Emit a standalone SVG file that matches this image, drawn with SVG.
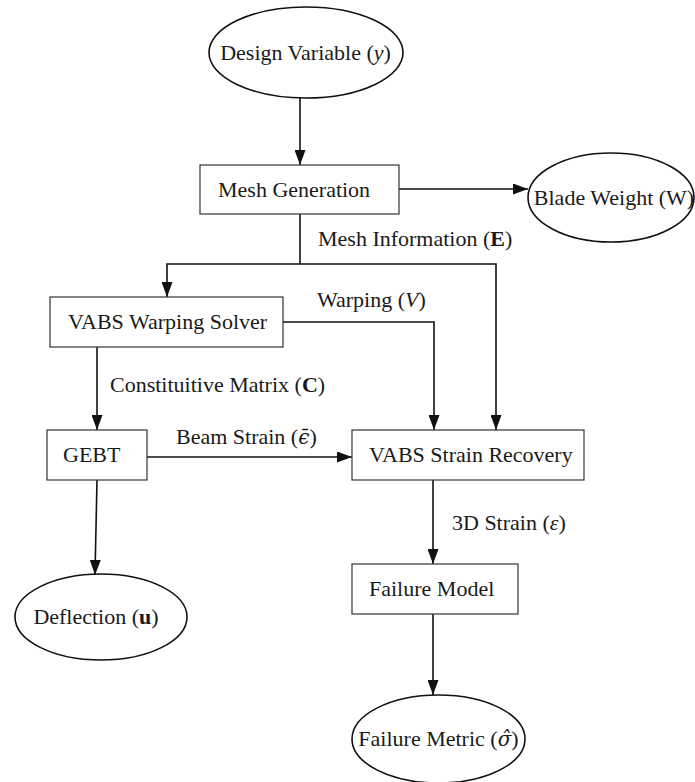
<svg xmlns="http://www.w3.org/2000/svg" width="695" height="782" viewBox="0 0 695 782">
  <style>
    text { font-family: "Liberation Serif", "DejaVu Serif", serif; font-size: 22px; fill: #1a1a1a; }
    .mid { text-anchor: middle; }
    .box { fill: #ffffff; stroke: #333333; stroke-width: 1.2; }
    .oval { fill: #ffffff; stroke: #111111; stroke-width: 1.6; }
    .edge { fill: none; stroke: #111111; stroke-width: 1.6; }
    .it { font-style: italic; }
    .bf { font-weight: bold; }
    .acc { font-family: "DejaVu Serif", serif; font-style: italic; font-size: 20px; }
  </style>
  <defs>
    <marker id="arrow" markerUnits="userSpaceOnUse" markerWidth="15" markerHeight="11" refX="15" refY="5.5" orient="auto">
      <path d="M0,0 L15,5.5 L0,11 z" fill="#111111"/>
    </marker>
  </defs>
  <rect width="695" height="782" fill="#ffffff"/>

  <!-- connectors and their labels -->
  <g id="connectors">
    <path class="edge" d="M300,98 V165" marker-end="url(#arrow)"/>
    <path class="edge" d="M399,189 H528" marker-end="url(#arrow)"/>
    <path class="edge" d="M300,214 V264"/>
    <path class="edge" d="M300,264 H167 V297" marker-end="url(#arrow)"/>
    <path class="edge" d="M300,264 H496 V430" marker-end="url(#arrow)"/>
    <path class="edge" d="M283,322 H434 V430" marker-end="url(#arrow)"/>
    <path class="edge" d="M97,347 V430" marker-end="url(#arrow)"/>
    <path class="edge" d="M147,457 H352" marker-end="url(#arrow)"/>
    <path class="edge" d="M97,480 L95,575" marker-end="url(#arrow)"/>
    <path class="edge" d="M433,480 V564" marker-end="url(#arrow)"/>
    <path class="edge" d="M433,614 V695" marker-end="url(#arrow)"/>

    <text x="318" y="246">Mesh Information (<tspan class="bf">E</tspan>)</text>
    <text x="317" y="307">Warping (<tspan class="it">V</tspan>)</text>
    <text x="110" y="392">Constituitive Matrix (<tspan class="bf">C</tspan>)</text>
    <text x="176" y="444">Beam Strain (<tspan class="acc">ϵ̄</tspan>)</text>
    <text x="452" y="530">3D Strain (<tspan class="it">ε</tspan>)</text>
  </g>

  <g id="design-variable">
    <ellipse class="oval" cx="306" cy="52.5" rx="97" ry="45.5"/>
    <text class="mid" x="305.5" y="60">Design Variable (<tspan class="it">y</tspan>)</text>
  </g>

  <g id="mesh-generation">
    <rect class="box" x="200" y="165" width="199" height="49"/>
    <text x="218" y="197">Mesh Generation</text>
  </g>

  <g id="blade-weight">
    <ellipse class="oval" cx="611" cy="197.5" rx="83" ry="44.5"/>
    <text class="mid" x="614" y="205">Blade Weight (W)</text>
  </g>

  <g id="vabs-warping-solver">
    <rect class="box" x="50" y="297" width="233" height="50"/>
    <text x="68" y="329">VABS Warping Solver</text>
  </g>

  <g id="gebt">
    <rect class="box" x="47" y="430" width="100" height="50"/>
    <text x="63" y="462">GEBT</text>
  </g>

  <g id="vabs-strain-recovery">
    <rect class="box" x="352" y="430" width="232" height="50"/>
    <text x="369" y="462">VABS Strain Recovery</text>
  </g>

  <g id="deflection">
    <ellipse class="oval" cx="101" cy="617" rx="86" ry="43"/>
    <text class="mid" x="96" y="624">Deflection (<tspan class="bf">u</tspan>)</text>
  </g>

  <g id="failure-model">
    <rect class="box" x="352" y="564" width="166" height="50"/>
    <text x="369" y="596">Failure Model</text>
  </g>

  <g id="failure-metric">
    <ellipse class="oval" cx="438.5" cy="739" rx="86.5" ry="44"/>
    <text class="mid" x="438.5" y="746">Failure Metric (<tspan class="acc">σ̂</tspan>)</text>
  </g>
</svg>
